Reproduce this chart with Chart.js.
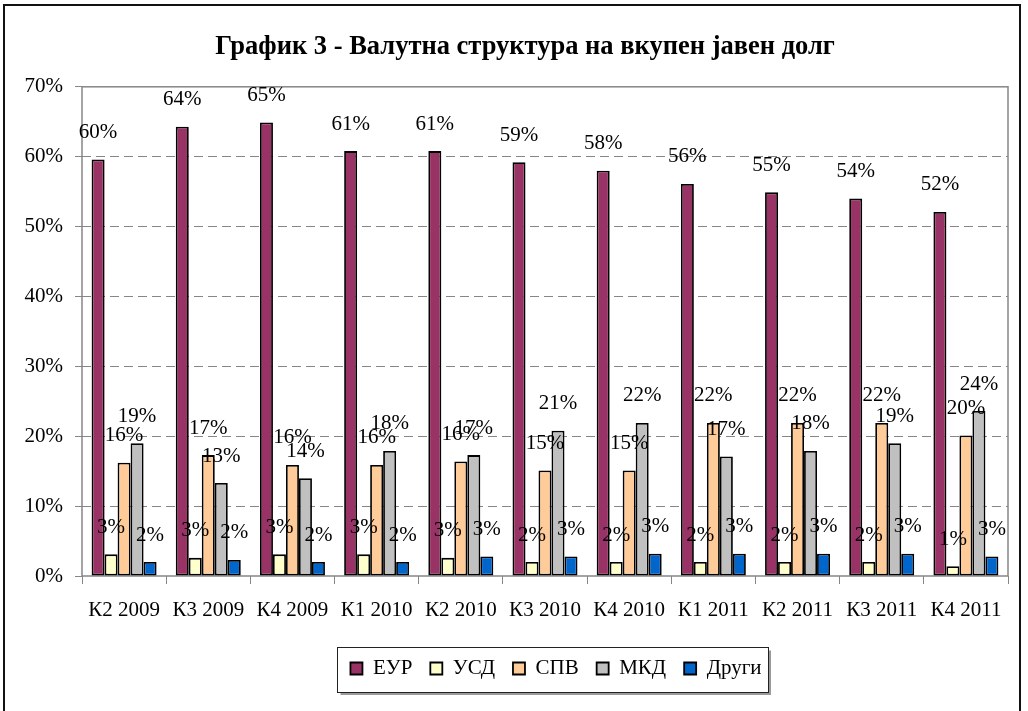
<!DOCTYPE html>
<html>
<head>
<meta charset="utf-8">
<script src="https://cdn.jsdelivr.net/npm/chart.js@4/dist/chart.umd.min.js"></script>
<style>
  html, body { margin: 0; padding: 0; background: #fff; }
  #wrap { width: 1028px; height: 711px; }
</style>
</head>
<body>
<div id="wrap"><canvas id="c" width="1028" height="711"></canvas></div>
<script>
// Quarters on the category axis
const quarters = ['К2 2009', 'К3 2009', 'К4 2009', 'К1 2010', 'К2 2010', 'К3 2010',
                  'К4 2010', 'К1 2011', 'К2 2011', 'К3 2011', 'К4 2011'];

// Share of total public debt by currency, in percent
const eur    = [59.6, 64.3, 64.9, 60.8, 60.8, 59.2, 58.0, 56.1, 54.9, 54.0, 52.1];
const usd    = [3.1, 2.6, 3.1, 3.1, 2.6, 2.0, 2.0, 2.0, 2.0, 2.0, 1.4];
const sdr    = [16.2, 17.3, 15.9, 15.9, 16.4, 15.1, 15.1, 21.9, 21.9, 21.9, 20.1];
const mkd    = [19.0, 13.3, 14.0, 17.9, 17.3, 20.8, 21.9, 17.1, 17.9, 19.0, 23.6];
const others = [2.0, 2.3, 2.0, 2.0, 2.8, 2.8, 3.2, 3.2, 3.2, 3.2, 2.8];

const seriesNames = ['ЕУР', 'УСД', 'СПВ', 'МКД', 'Други'];

// Value axis range and step
const yMin = 0;
const yMax = 70;
const yStep = 10;

const FONT = "'Liberation Serif', 'Times New Roman', serif";
const GRAY = '#868686';

function series(label, data, color) {
  return {
    label, data,
    backgroundColor: color,
    borderColor: '#000',
    borderWidth: 1.8,
    borderSkipped: false,
    categoryPercentage: 0.772,
    barPercentage: 1.0
  };
}

// Wraps a layout box's draw so it is painted with a horizontal offset
function shiftBox(box, dx) {
  if (!box || box.__shifted) return;
  const orig = box.draw.bind(box);
  box.draw = function (...args) {
    const c = this.ctx;
    c.save();
    c.translate(dx, 0);
    orig(...args);
    c.restore();
  };
  box.__shifted = true;
}

const TITLE_SHIFT = 12;
const LEGEND_SHIFT = 11;

// White page with the dark outer frame
const outerFrame = {
  id: 'outerFrame',
  beforeDraw(chart) {
    const c = chart.ctx;
    c.save();
    c.fillStyle = '#fff';
    c.fillRect(0, 0, chart.width, chart.height);
    c.strokeStyle = '#111';
    c.lineWidth = 2;
    c.strokeRect(4, 5, 1016, 740);
    c.restore();
  }
};

// Grey border round the plot area
const plotFrame = {
  id: 'plotFrame',
  beforeDatasetsDraw(chart) {
    const a = chart.chartArea;
    const c = chart.ctx;
    c.save();
    c.strokeStyle = GRAY;
    c.lineWidth = 1.5;
    c.strokeRect(a.left, a.top, a.right - a.left, a.bottom - a.top);
    c.restore();
  }
};

// Rounded percentage written above every bar
const valueLabels = {
  id: 'valueLabels',
  afterDatasetsDraw(chart) {
    const c = chart.ctx;
    c.save();
    c.font = '21px ' + FONT;
    c.fillStyle = '#000';
    c.textAlign = 'center';
    c.textBaseline = 'middle';
    chart.data.datasets.forEach((ds, di) => {
      const meta = chart.getDatasetMeta(di);
      meta.data.forEach((bar, i) => {
        c.fillText(Math.round(ds.data[i]) + '%', bar.x, bar.y - 27);
      });
    });
    c.restore();
  }
};

// Title and legend offsets, plus a thin frame with shadow round the legend
const boxes = {
  id: 'boxes',
  afterLayout(chart) {
    shiftBox(chart.titleBlock, TITLE_SHIFT);
    shiftBox(chart.legend, LEGEND_SHIFT);
  },
  afterDraw(chart) {
    const lg = chart.legend;
    if (!lg || !lg.legendHitBoxes || !lg.legendHitBoxes.length) return;
    const hb = lg.legendHitBoxes;
    const first = hb[0], last = hb[hb.length - 1];
    const cy = first.top + first.height / 2;
    const x1 = Math.round(first.left + LEGEND_SHIFT - 13) + 0.5;
    const x2 = Math.round(last.left + last.width + LEGEND_SHIFT + 6) + 0.5;
    const y1 = Math.round(cy - 22) + 0.5;
    const y2 = Math.round(cy + 23) + 0.5;
    const c = chart.ctx;
    c.save();
    c.strokeStyle = '#9a9a9a';
    c.lineWidth = 2;
    c.beginPath();
    c.moveTo(x1 + 3, y2 + 1.5);
    c.lineTo(x2 + 1.5, y2 + 1.5);
    c.lineTo(x2 + 1.5, y1 + 3);
    c.stroke();
    c.strokeStyle = '#222';
    c.lineWidth = 1;
    c.strokeRect(x1, y1, x2 - x1, y2 - y1);
    c.restore();
  }
};

new Chart(document.getElementById('c'), {
  type: 'bar',
  data: {
    labels: quarters,
    datasets: [
      series(seriesNames[0], eur, '#993366'),
      series(seriesNames[1], usd, '#FFFFCC'),
      series(seriesNames[2], sdr, '#FFCC99'),
      series(seriesNames[3], mkd, '#C0C0C0'),
      series(seriesNames[4], others, '#0066CC')
    ]
  },
  options: {
    responsive: false,
    animation: false,
    devicePixelRatio: 1,
    layout: { padding: { left: 18, right: 20, top: 0, bottom: 22 } },
    plugins: {
      title: {
        display: true,
        text: 'График 3 - Валутна структура на вкупен јавен долг',
        color: '#000',
        font: { family: FONT, size: 26.5, weight: 'bold', lineHeight: 1.2 },
        padding: { top: 31, bottom: 24 }
      },
      legend: {
        display: true,
        position: 'bottom',
        fullSize: false,
        labels: {
          color: '#000',
          font: { family: FONT, size: 21 },
          boxWidth: 12,
          boxHeight: 12,
          padding: 18
        }
      },
      tooltip: { enabled: false }
    },
    scales: {
      x: {
        grid: {
          display: true,
          offset: true,
          drawOnChartArea: false,
          drawTicks: true,
          tickLength: 8,
          tickColor: GRAY,
          tickWidth: 1
        },
        border: { display: false },
        ticks: {
          color: '#000',
          font: { family: FONT, size: 21 },
          padding: 14,
          maxRotation: 0,
          autoSkip: false
        },
        afterFit(scale) { scale.height = 64; }
      },
      y: {
        min: yMin,
        max: yMax,
        grid: {
          color: (ctx) => (ctx.tick && (ctx.tick.value === yMin || ctx.tick.value === yMax)) ? 'rgba(0,0,0,0)' : GRAY,
          lineWidth: 1,
          tickLength: 7,
          tickColor: GRAY,
          tickWidth: 1
        },
        border: { display: false, dash: [9, 5] },
        ticks: {
          stepSize: yStep,
          color: '#000',
          font: { family: FONT, size: 21 },
          padding: 12,
          callback: (v) => v + '%'
        },
        afterFit(scale) { scale.width = 64; }
      }
    }
  },
  plugins: [outerFrame, plotFrame, valueLabels, boxes]
});
</script>
</body>
</html>
